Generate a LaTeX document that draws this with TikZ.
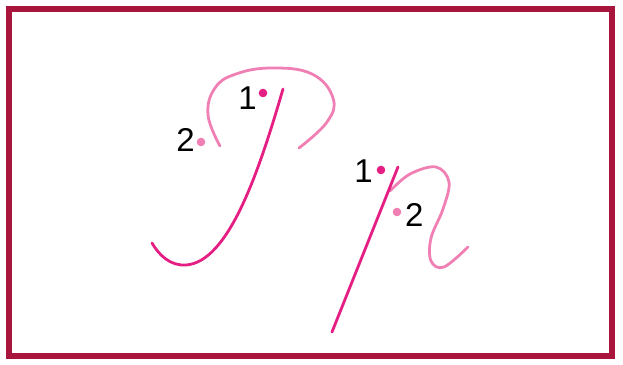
\documentclass[tikz,border=0pt]{standalone}
\usepackage{fontspec}
\setmainfont{Liberation Sans}
\definecolor{frameC}{RGB}{168,22,62}
\definecolor{darkP}{RGB}{228,30,130}
\definecolor{lightP}{RGB}{240,128,180}
\begin{document}
\begin{tikzpicture}[x=1pt,y=-1pt,
  stroke1/.style={draw=darkP,line width=2.8pt,line cap=round},
  stroke2/.style={draw=lightP,line width=2.8pt,line cap=round},
  lbl/.style={font=\fontsize{33}{34}\selectfont,inner sep=0pt,text=black}]
\useasboundingbox (0,0) rectangle (623,364);
\draw[frameC,line width=5.5pt] (9,9) rectangle (612,356);
% left letter
\draw[stroke2] plot[smooth,tension=0.7] coordinates {(220,146) (208,115) (215,88) (236,74) (272,68) (312,74) (333,98) (327,122) (299,148)};
\draw[stroke1] (283,89) .. controls (258,175) and (228,262) .. (186,265) .. controls (170,266) and (159,255) .. (152,243);
\fill[darkP] (263,93) circle (4.3pt) coordinate (d1a);
\fill[lightP] (201,142) circle (4.3pt) coordinate (d2a);
\node[lbl,anchor=east] (l1a) at (257,98) {1};
\node[lbl,anchor=east] (l2a) at (195,140) {2};
% right letter
\draw[stroke2] plot[smooth,tension=0.6] coordinates {(390,191) (410,174) (436,167) (449,182) (443,209) (431,238) (431,261) (444,267) (468,247)};
\draw[stroke1] (398,167) -- (332,332);
\fill[darkP] (381,170) circle (4.3pt) coordinate (d1b);
\fill[lightP] (397,212) circle (4.3pt) coordinate (d2b);
\node[lbl,anchor=east] (l1b) at (373,171) {1};
\node[lbl,anchor=west] (l2b) at (405,215) {2};
\end{tikzpicture}
\end{document}
